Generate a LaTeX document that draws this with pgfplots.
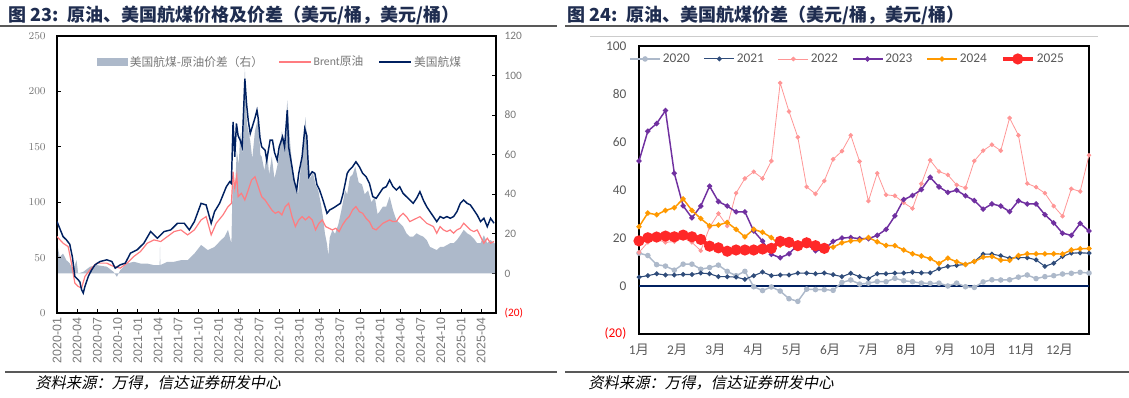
\documentclass[border=0pt]{standalone}
\usepackage{pgfplots}
\usepackage{pgfplotstable}
\pgfplotsset{compat=1.18}
\usepackage{fontspec}
\setmainfont{Carlito}
\newfontfamily\cjk{Noto Sans CJK SC}
\newfontfamily\cjkit{Noto Sans CJK SC}[FakeSlant=0.2]
\newfontfamily\arialf{Liberation Sans}
\definecolor{spreadgray}{RGB}{173,185,202}
\definecolor{brent}{RGB}{255,124,128}
\definecolor{jet}{RGB}{0,32,96}
\definecolor{c2020}{RGB}{173,185,202}
\definecolor{c2021}{RGB}{47,76,122}
\definecolor{c2022}{RGB}{255,150,150}
\definecolor{c2023}{RGB}{112,48,160}
\definecolor{c2024}{RGB}{255,153,0}
\definecolor{c2025}{RGB}{255,40,40}
\definecolor{titlec}{RGB}{31,45,80}
\definecolor{axgray}{RGB}{120,120,120}
\definecolor{lab}{RGB}{89,89,89}

\pgfplotstableread{
week y20 y21 y22 y23 y24
0 13.7 3.7 14.0 52.1 24.7
1 12.7 4.3 18.2 64.5 30.4
2 8.9 5.1 19.4 67.7 29.7
3 8.3 4.6 18.2 73.1 31.5
4 6.6 4.6 18.5 47.0 32.6
5 9.1 4.8 20.0 33.4 36.3
6 9.1 4.8 18.2 28.4 31.5
7 7.0 5.4 14.7 33.3 28.1
8 7.7 5.1 24.5 41.6 25.1
9 8.7 3.9 30.2 35.2 25.4
10 6.1 3.9 25.0 33.3 26.5
11 4.3 3.7 38.7 30.9 23.6
12 6.1 2.8 44.8 30.9 20.5
13 -0.3 4.3 47.6 22.9 23.6
14 -1.9 5.8 44.8 18.7 22.4
15 -0.4 4.3 52.1 13.2 20.2
16 -2.1 4.6 84.6 11.8 17.0
17 -5.3 4.6 72.7 13.4 17.6
18 -6.4 5.4 62.0 17.3 17.0
19 -1.3 5.4 41.3 17.5 18.2
20 -1.5 5.1 38.4 14.7 16.5
21 -1.5 5.4 43.8 15.2 16.1
22 -1.8 4.7 52.8 18.6 16.2
23 1.5 3.9 56.2 20.0 18.0
24 2.5 5.3 62.8 20.2 18.8
25 0.8 3.9 51.9 19.7 19.0
26 1.2 3.1 35.4 19.7 20.2
27 1.9 5.1 47.0 21.1 18.4
28 1.8 5.1 38.0 23.6 16.9
29 3.2 5.4 37.6 29.2 16.8
30 2.2 5.4 34.7 36.0 15.0
31 1.8 5.7 32.3 37.7 13.4
32 1.2 5.5 42.6 40.2 12.5
33 1.1 5.5 52.4 45.3 11.4
34 1.2 7.2 47.7 41.3 9.4
35 0.0 8.2 46.3 39.0 11.6
36 1.2 8.6 42.1 39.9 10.1
37 -0.3 9.0 40.9 37.6 9.0
38 -0.6 10.2 52.1 35.6 10.2
39 1.7 13.3 56.4 32.0 12.0
40 2.6 13.3 58.9 34.2 12.3
41 2.5 12.6 56.4 33.3 10.8
42 2.6 11.6 70.0 31.0 10.7
43 3.7 11.8 62.8 35.5 12.7
44 4.6 11.8 42.7 34.2 13.4
45 3.1 10.9 41.2 34.2 13.4
46 3.9 8.2 38.7 29.7 13.4
47 4.3 9.5 33.3 26.3 13.4
48 5.0 12.3 29.1 22.0 13.3
49 5.3 13.7 40.5 21.1 15.0
50 5.7 13.8 39.4 26.1 15.5
51 5.4 13.7 54.5 22.9 15.6
}\weekly

\pgfplotstableread{
week y25
0 18.8
1 20.1
2 20.4
3 20.8
4 20.5
5 21.2
6 20.5
7 19.4
8 16.6
9 15.9
10 14.5
11 15.0
12 15.0
13 15.0
14 15.4
15 15.7
16 18.6
17 18.2
18 16.8
19 18.0
20 16.8
21 15.7
}\weeklyb

\begin{document}
\begin{tikzpicture}
\useasboundingbox (0,0) rectangle (846.75pt,-297.75pt);
\begin{scope}[x=0.75pt,y=-0.75pt]
\node[anchor=west, inner sep=0pt, text=titlec, font={\cjk\bfseries\fontsize{13.5}{15}\selectfont}] at (8,15) {图 23:\enspace 原油、美国航煤价格及价差（美元/桶，美元/桶）};
\node[anchor=west, inner sep=0pt, text=titlec, font={\cjk\bfseries\fontsize{13.5}{15}\selectfont}] at (567,15) {图 24:\enspace 原油、美国航煤价差（美元/桶，美元/桶）};
\draw[line width=0.9pt, black!65] (0,26) -- (557,26);
\draw[line width=0.9pt, black!65] (565,26) -- (1129,26);
\draw[line width=0.6pt, black!20] (590,36) -- (1098,36);
\draw[line width=0.9pt, black!65] (5,372) -- (557,372);
\draw[line width=0.9pt, black!65] (565,372) -- (1129,372);
\node[anchor=west, inner sep=0pt, font={\cjkit\fontsize{11.5}{13}\selectfont}] at (35,383) {资料来源：万得，信达证券研发中心};
\node[anchor=west, inner sep=0pt, font={\cjkit\fontsize{11.5}{13}\selectfont}] at (588,383) {资料来源：万得，信达证券研发中心};
\end{scope}

% ---------- left chart: spread (right axis) ----------
\begin{axis}[
  at={(42.75pt,-234.75pt)}, anchor=south west,
  scale only axis, width=329.25pt, height=207.75pt,
  xmin=0, xmax=65.2, ymin=-20, ymax=120,
  axis x line=none, axis y line*=right,
  axis line style={black, line width=0.9pt},
  ytick={-20,0,20,40,60,80,100,120},
  yticklabels={{\textcolor{red}{(20)}},0,20,40,60,80,100,120},
  tick align=inside, major tick length=3pt,
  every tick/.style={black, line width=0.6pt},
  y tick label style={font=\fontsize{8.5}{10}\selectfont, text=axgray, xshift=3pt},
]
\addplot[fill=spreadgray, draw=none] coordinates {
(0,15.3)(0.4,8.4)(0.9,10)(1.4,6.7)(1.9,5)(2.4,1.7)(2.9,6.7)(3.15,0)(3.9,0.8)(4.9,3.4)(5.9,4.2)(7.4,3.4)(8.4,0.8)(8.9,-1.7)(9.4,1.7)(10.4,5)(11.4,5.9)(12.4,5)(13.4,5)(14.4,4.2)(15.25,4.2)(15.3,13.6)(15.35,4.2)(16.4,5.9)(17.4,5.9)(18.4,6.7)(19.4,6.7)(20.4,10)(21.4,14.4)(22.4,11.8)(23.4,13.4)(24.15,16.1)(24.9,18.6)(25.4,22)(25.9,15)(26.1,48.7)(26.4,40)(26.7,62)(27.0,55)(27.2,71)(27.6,60)(27.9,104)(28.2,76)(28.7,67)(29.0,58)(29.4,72)(29.9,79)(30.2,60)(30.4,59)(30.8,52)(31.2,62)(31.5,50)(31.9,59)(32.3,48)(32.7,54)(33.0,60)(33.4,72)(33.8,65)(34.2,87.5)(34.6,67)(35.0,52)(35.4,45)(35.8,40)(36.1,50)(36.5,62)(36.9,79)(37.3,59)(37.6,48)(38.0,51)(38.4,45)(38.8,42)(39.2,35)(39.5,28.5)(39.8,20)(40.1,15)(40.3,9)(40.5,18)(40.9,22)(41.3,20)(41.8,25)(42.3,33)(42.8,42)(43.1,40)(43.5,48.7)(43.9,50)(44.3,54)(44.8,46)(45.3,45)(45.7,40)(46.2,42)(46.7,36)(47.2,38.7)(47.6,30)(47.9,31.2)(48.4,33.8)(48.9,33.8)(49.4,38.8)(49.9,32)(50.4,27)(50.9,25.4)(51.4,23.7)(51.9,20.3)(52.4,18.6)(52.9,18.6)(53.4,20.3)(53.9,19.3)(54.4,18.6)(54.9,16.9)(55.4,13.4)(55.9,12.6)(56.4,11.8)(56.9,13.4)(57.4,13.4)(57.9,14.3)(58.4,15.3)(58.9,15.3)(59.4,16.9)(59.9,19.3)(60.4,22)(60.9,20.3)(61.4,19.3)(61.9,17.6)(62.4,15.3)(62.9,15.3)(63.4,19.3)(63.9,15.3)(64.4,16.9)(64.9,15.3)(65.2,15)
} \closedcycle;
\end{axis}

% ---------- left chart: prices (left axis) ----------
\begin{axis}[
  at={(42.75pt,-234.75pt)}, anchor=south west,
  scale only axis, width=329.25pt, height=207.75pt,
  xmin=0, xmax=65.2, ymin=0, ymax=250,
  axis line style={black, line width=0.9pt},
  ytick={0,50,100,150,200,250}, ytick pos=left,
  xtick={0,3,...,63}, xtick pos=bottom,
  xticklabels={2020-01,2020-04,2020-07,2020-10,2021-01,2021-04,2021-07,2021-10,2022-01,2022-04,2022-07,2022-10,2023-01,2023-04,2023-07,2023-10,2024-01,2024-04,2024-07,2024-10,2025-01,2025-04},
  tick align=inside, major tick length=3pt,
  every tick/.style={black, line width=0.6pt},
  y tick label style={font=\fontsize{8.5}{10}\selectfont, text=axgray, xshift=-5pt},
  x tick label style={rotate=90, anchor=east, font=\arialf\fontsize{9.3}{10}\selectfont, text=axgray},
  legend image code/.code={\draw[#1] (0pt,0pt) -- (24pt,0pt);},
  legend style={at={(0.09,0.906)}, anchor=west, draw=none, fill=none, inner sep=0pt,
    legend columns=3, font=\fontsize{8.8}{10}\selectfont, text=axgray,
    nodes={inner sep=1.5pt},
    /tikz/every even column/.append style={column sep=10pt}},
]
\addlegendimage{legend image code/.code={\fill[spreadgray] (0pt,-2.6pt) rectangle (23pt,2.6pt);}}
\addlegendentry{\cjk 美国航煤-原油价差（右）}
\addplot[brent, line width=0.9pt] coordinates {
(0,69)(0.9,63)(1.65,60)(2.15,45)(2.65,27)(3.15,24)(3.65,22.5)(4.15,33)(4.9,39)(5.9,45)(7.4,45)(8.4,42)(9.4,40.5)(10.4,45)(11.4,51)(12.4,55.5)(13.4,63)(14.4,66)(15.4,64.5)(16.4,69)(17.4,73.5)(18.4,75)(19.4,70.5)(20.4,75)(21.4,84)(22.15,87)(22.9,70.5)(23.65,81)(24.65,88.5)(25.4,96)(25.9,99)(26.15,127.5)(26.4,112.5)(26.7,124)(26.9,105)(27.4,108)(27.9,102)(28.4,111)(28.9,120)(29.4,123)(29.9,114)(30.4,105)(30.9,102)(31.4,97.5)(31.9,93)(32.4,90)(32.9,91.5)(33.4,88.5)(33.9,96)(34.4,99)(34.9,87)(35.4,78)(35.9,84)(36.4,87)(36.9,84)(37.4,87)(37.9,84)(38.4,75)(38.9,81)(39.4,84)(39.9,78)(40.4,76.5)(40.9,75)(41.4,76.5)(41.9,73.5)(42.4,79.5)(42.9,84)(43.4,87)(43.9,93)(44.4,96)(44.9,91.5)(45.4,90)(45.9,85.5)(46.4,82.5)(46.9,76.5)(47.4,75)(47.9,78)(48.4,81)(48.9,82.5)(49.4,84)(49.9,82.5)(50.4,82.5)(50.9,87)(51.4,90)(51.9,87)(52.4,82.5)(52.9,84)(53.4,85.5)(53.9,87)(54.4,84)(54.9,81)(55.4,79.5)(55.9,78)(56.4,72)(56.9,78)(57.4,75)(57.9,73.5)(58.4,75)(58.9,72)(59.4,75)(59.9,76.5)(60.4,81)(60.9,78)(61.4,75)(61.9,73.5)(62.4,75)(62.9,69)(63.4,63)(63.9,67.5)(64.4,63)(64.9,64.5)
};
\addlegendentry{Brent{\cjk 原油}}
\addplot[jet, line width=1.1pt] coordinates {
(0,82.5)(0.9,69)(1.4,66)(1.9,62)(2.3,50)(2.65,33)(3.15,30)(3.4,28)(3.65,21)(3.9,18)(4.15,24)(4.65,33)(5.15,39)(5.65,43.5)(6.4,46.5)(7.4,48)(8.15,46.5)(8.65,40.5)(9.4,43.5)(10.15,45)(10.9,54)(11.9,57)(12.9,63)(13.9,73.5)(14.9,67.5)(15.9,73.5)(16.9,75)(17.9,81)(18.9,81)(19.65,75)(20.4,82.5)(21.4,99)(22.15,97.5)(22.9,81)(23.4,91.5)(24.15,99)(24.65,106.5)(25.15,114)(25.65,118.5)(25.9,117)(26.15,172.5)(26.4,141)(26.65,171)(26.9,160)(27.2,156)(27.5,150)(27.9,211.5)(28.15,189)(28.4,174)(28.7,162)(29.1,170)(29.4,176)(29.7,183)(29.9,175)(30.15,158)(30.4,150)(30.9,147)(31.15,138)(31.65,156)(32.0,156)(32.3,145)(32.7,138)(33.0,150)(33.5,159)(33.8,150)(34.2,183)(34.4,150)(34.9,132)(35.2,120)(35.6,111)(35.9,126)(36.4,141)(36.8,166.5)(37.1,160)(37.4,123)(37.9,127.5)(38.3,126)(38.6,116)(39.0,111)(39.5,102)(40.1,90)(40.5,93)(41.1,95)(41.6,97)(42.1,99)(42.5,108)(43.1,126)(43.4,129)(43.9,132)(44.4,136.5)(44.9,132)(45.4,126)(45.9,123)(46.4,117)(46.9,105)(47.4,103.5)(47.9,108)(48.4,112.5)(48.9,114)(49.4,120)(49.9,114)(50.4,111)(50.9,114)(51.4,108)(51.9,105)(52.4,102)(52.9,99)(53.4,103.5)(53.9,109.5)(54.4,102)(54.9,96)(55.4,91.5)(55.9,87)(56.4,82.5)(56.9,87)(57.4,85.5)(57.9,87)(58.4,85.5)(58.9,87)(59.4,91.5)(59.9,99)(60.4,102)(60.9,99)(61.4,97.5)(61.9,93)(62.4,88.5)(62.9,82.5)(63.4,85.5)(63.9,78)(64.4,85.5)(64.9,81)
};
\addlegendentry{\cjk 美国航煤}
\end{axis}

% ---------- right chart ----------
\begin{axis}[
  at={(479.25pt,-250.5pt)}, anchor=south west,
  scale only axis, width=337.5pt, height=216pt,
  xmin=0, xmax=51, ymin=-20, ymax=100,
  axis line style={black, line width=1pt},
  ytick={-20,0,20,40,60,80,100},
  yticklabels={{\textcolor{red}{(20)}},0,20,40,60,80,100},
  xtick={0,4.33,8.67,13,17.33,21.67,26,30.33,34.67,39,43.33,47.67},
  xticklabels={1{\cjk 月},2{\cjk 月},3{\cjk 月},4{\cjk 月},5{\cjk 月},6{\cjk 月},7{\cjk 月},8{\cjk 月},9{\cjk 月},10{\cjk 月},11{\cjk 月},12{\cjk 月}},
  major tick length=0pt,
  tick label style={font=\fontsize{10}{12}\selectfont, text=lab},
  y tick label style={xshift=-6pt},
  x tick label style={yshift=-4pt},
  clip=false,
  legend image code/.code={\draw[mark repeat=2,mark phase=2,#1] plot coordinates {(0pt,0pt) (11.25pt,0pt) (22.5pt,0pt)};},
  legend style={at={(-0.022,0.955)}, anchor=west, draw=none, fill=none, inner sep=0pt,
    legend columns=6, font=\fontsize{10}{12}\selectfont, text=lab,
    nodes={inner sep=1.5pt},
    /tikz/every even column/.append style={column sep=9pt}},
]
\addplot[jet, line width=1pt, forget plot] coordinates {(0,0)(51,0)};
\addplot[c2020, line width=1.1pt, mark=*, mark size=1.5pt] table[x=week, y=y20] {\weekly};
\addlegendentry{2020}
\addplot[c2021, line width=0.8pt, mark=*, mark size=1.4pt] table[x=week, y=y21] {\weekly};
\addlegendentry{2021}
\addplot[c2022, line width=0.6pt, mark=*, mark size=1.4pt] table[x=week, y=y22] {\weekly};
\addlegendentry{2022}
\addplot[c2023, line width=1.1pt, mark=*, mark size=1.4pt] table[x=week, y=y23] {\weekly};
\addlegendentry{2023}
\addplot[c2024, line width=1.1pt, mark=*, mark size=1.4pt] table[x=week, y=y24] {\weekly};
\addlegendentry{2024}
\addplot[c2025, line width=3pt, mark=*, mark size=2.6pt] table[x=week, y=y25] {\weeklyb};
\addlegendentry{2025}
\end{axis}
\end{tikzpicture}
\end{document}
